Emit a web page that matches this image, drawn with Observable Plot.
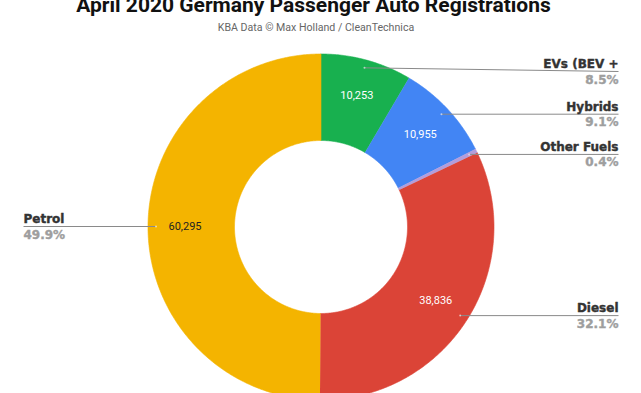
<!DOCTYPE html>
<html>
<head>
<meta charset="utf-8">
<script src="https://cdn.jsdelivr.net/npm/d3@7"></script>
<script src="https://cdn.jsdelivr.net/npm/@observablehq/plot@0.6"></script>
<style>
  html, body { margin: 0; padding: 0; background: #fff; }
  #wrap { width: 641px; height: 393px; overflow: hidden; position: relative; }
  #head { position: relative; width: 641px; height: 40px; overflow: hidden; }
  #title { position: absolute; left: 0; width: 627px; text-align: center; top: -5px;
    font-family: Roboto, sans-serif; font-weight: bold; font-size: 21px; line-height: 21px; color: #111; white-space: nowrap; }
  #sub { position: absolute; left: 0; width: 632px; text-align: center; top: 22px;
    font-family: Roboto, sans-serif; font-size: 10.6px; line-height: 11px; color: #666; white-space: nowrap; }
  #chart svg { display: block; }
</style>
</head>
<body>
<div id="wrap">
  <div id="head">
    <div id="title">April 2020 Germany Passenger Auto Registrations</div>
    <div id="sub">KBA Data © Max Holland / CleanTechnica</div>
  </div>
  <div id="chart"></div>
</div>
<script>
const categories = ["EVs (BEV +", "Hybrids", "Other Fuels", "Diesel", "Petrol"];
const registrations = [10253, 10955, 480, 38836, 60295];
const colors = ["#18B04F", "#4285F4", "#B39DDB", "#DB4437", "#F4B400"];
const valueTextColors = ["#ffffff", "#ffffff", "#ffffff", "#ffffff", "#222222"];

// layout constants (page pixels)
const cx = 320.5, cy = 226.5, R = 173, r0 = 86.5;
const rValue = 136, rAnchor = 165;
const rightX = 618, leftX = 23, minLabelY = 71;
const headH = 40, W = 641, H = 393 - headH;

const total = d3.sum(registrations);
const pt = (a, r) => ({x: cx + r * Math.sin(a), y: cy - r * Math.cos(a)});

let cum = 0;
const slices = categories.map((name, i) => {
  const a0 = cum / total * 2 * Math.PI;
  cum += registrations[i];
  const a1 = cum / total * 2 * Math.PI;
  const mid = (a0 + a1) / 2;
  const n = Math.max(2, Math.ceil((a1 - a0) / 0.01));
  const pts = [];
  for (let k = 0; k <= n; k++) pts.push(pt(a0 + (a1 - a0) * k / n, R));
  for (let k = n; k >= 0; k--) pts.push(pt(a0 + (a1 - a0) * k / n, r0));
  const v = pt(mid, rValue);
  const an = pt(mid, rAnchor);
  const right = Math.sin(mid) >= 0;
  const ly = right ? Math.max(an.y, minLabelY) : an.y;
  return {
    name, value: registrations[i], color: colors[i], textColor: valueTextColors[i],
    pts, vx: v.x, vy: v.y, ax: an.x, ay: an.y, right,
    lx: right ? rightX : leftX, ly,
    pct: d3.format(".1%")(registrations[i] / total)
  };
});

const font = "DejaVu Sans, Verdana, sans-serif";
const labelMarks = (data, anchor) => [
  Plot.text(data, {x: "lx", y: d => d.ly - 3.5, text: "name", textAnchor: anchor, lineAnchor: "bottom",
    fill: "#333333", stroke: "#333333", strokeWidth: 0.4, fontFamily: font, fontWeight: "bold", fontSize: 12}),
  Plot.text(data, {x: "lx", y: d => d.ly + 3.5, text: "pct", textAnchor: anchor, lineAnchor: "top",
    fill: "#9e9e9e", stroke: "#9e9e9e", strokeWidth: 0.4, fontFamily: font, fontWeight: "bold", fontSize: 12})
];

const plot = Plot.plot({
  width: W, height: H,
  margin: 0,
  x: {domain: [0, W], range: [0, W], axis: null},
  y: {domain: [headH, 393], range: [0, H], axis: null},
  marks: [
    ...slices.map(s => Plot.line(s.pts, {x: "x", y: "y", fill: s.color, stroke: s.color, strokeWidth: 0.6})),
    Plot.link(slices, {x1: "ax", y1: "ay", x2: "lx", y2: "ly", stroke: "#8a8a8a", strokeWidth: 1}),
    Plot.dot(slices, {x: "ax", y: "ay", r: 1, fill: "#ffffff", fillOpacity: 0.6}),
    Plot.text(slices.filter(s => s.value > 1000), {x: "vx", y: "vy", text: d => d3.format(",")(d.value),
      fill: "textColor", fontFamily: "Roboto, sans-serif", fontSize: 11}),
    ...labelMarks(slices.filter(s => s.right), "end"),
    ...labelMarks(slices.filter(s => !s.right), "start")
  ]
});
document.getElementById("chart").appendChild(plot);
</script>
</body>
</html>
